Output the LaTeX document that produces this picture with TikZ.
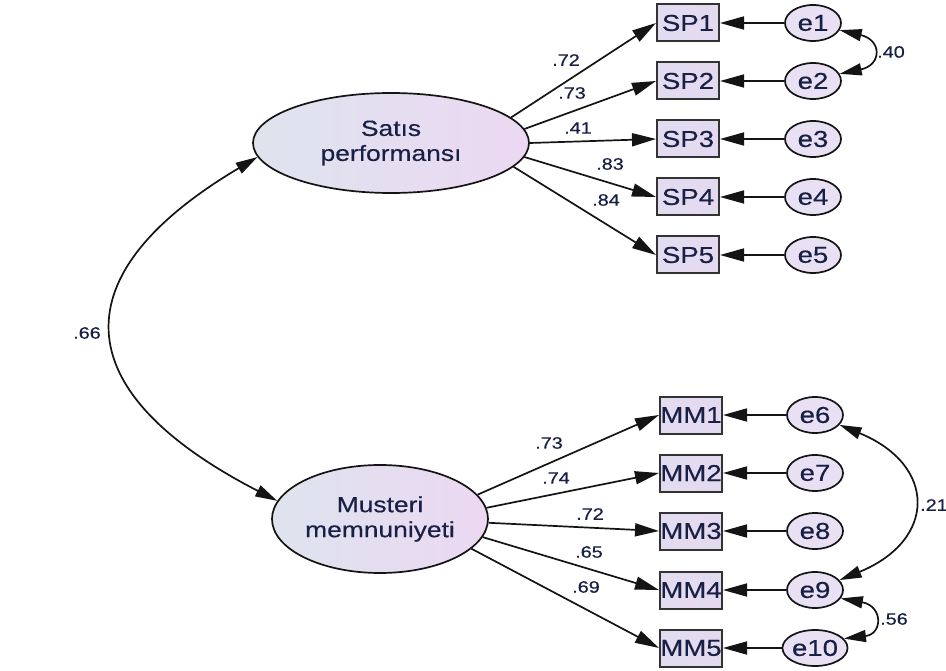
\documentclass[tikz,border=0pt]{standalone}
\usepackage{fontspec}
\setmainfont{Liberation Sans}[FakeStretch=1.2,FakeBold=0.4]
\usetikzlibrary{shapes.geometric,arrows.meta}
\definecolor{txt}{RGB}{25,32,70}
\definecolor{lineC}{RGB}{20,20,20}
\definecolor{fillL}{RGB}{222,228,238}
\definecolor{fillR}{RGB}{236,216,242}
\definecolor{boxC}{RGB}{228,218,240}
\tikzset{
  lat/.style={ellipse, draw=lineC, line width=1.7pt, left color=fillL, right color=fillR,
    inner sep=0pt, align=center, text=txt, font=\fontsize{22}{25}\selectfont},
  obs/.style={rectangle, draw=black!80, line width=2pt, left color=boxC!85!fillL, right color=boxC,
    minimum width=62pt, minimum height=37pt, inner sep=0pt, text=txt, font=\fontsize{23}{25}\selectfont},
  err/.style={ellipse, draw=lineC, line width=1.7pt, fill=boxC!80!white,
    minimum width=56pt, minimum height=36pt, inner sep=0pt, text=txt, font=\fontsize{23}{25}\selectfont},
  pth/.style={draw=lineC, line width=1.7pt, -{Triangle[length=24pt,width=13pt]}},
  cov/.style={draw=lineC, line width=1.7pt, {Triangle[length=22pt,width=12pt]}-{Triangle[length=22pt,width=12pt]}},
  lbl/.style={text=txt, inner sep=0pt, font=\fontsize{16.5}{18}\selectfont},
}
\begin{document}
\begin{tikzpicture}[x=1pt,y=-1pt]
\useasboundingbox (0,0) rectangle (946,671);
\fill[white] (0,0) rectangle (946,671);
% latent variables
\node[lat, minimum width=276pt, minimum height=100pt] (sat) at (391,143) {Satıs\\performansı};
\node[lat, minimum width=216pt, minimum height=108pt] (mus) at (380,519) {Musteri\\memnuniyeti};
% observed
\foreach \i/\y in {1/23,2/81,3/139,4/197,5/255}{
  \node[obs] (sp\i) at (688,\y) {SP\i};
  \node[err] (e\i) at (813,\y) {e\i};
}
\foreach \i/\y/\e in {1/415/6,2/473/7,3/531/8,4/590/9,5/648/10}{
  \node[obs] (mm\i) at (691,\y) {MM\i};
  \node[err] (e\e) at (815,\y) {e\e};
}
% error paths
\foreach \i in {1,...,5}{ \draw[pth] (e\i) -- (sp\i); }
\draw[pth] (e6) -- (mm1);
\draw[pth] (e7) -- (mm2);
\draw[pth] (e8) -- (mm3);
\draw[pth] (e9) -- (mm4);
\draw[pth] (e10) -- (mm5);
% loadings
\draw[pth] (sat.12) -- (sp1.west);
\draw[pth] (sat.6.7) -- (sp2.west);
\draw[pth] (sat.0) -- (sp3.west);
\draw[pth] (sat.-6.2) -- (sp4.west);
\draw[pth] (sat.-11) -- (sp5.west);
\draw[pth] (mus.14.6) -- (mm1.west);
\draw[pth] (mus.6.3) -- (mm2.west);
\draw[pth] (mus.-2) -- (mm3.west);
\draw[pth] (mus.-10) -- (mm4.west);
\draw[pth] (mus.-18) -- (mm5.west);
% covariances
\draw[cov] (sat.186) .. controls (62,273) and (62,390) .. (mus.170);
\draw[cov] (e1.-15) .. controls (882,40) and (882,65) .. (e2.15);
\draw[cov] (e6.-22) .. controls (937,465) and (937,540) .. (e9.22);
\draw[cov] (e9.-18) .. controls (883,606) and (883,634) .. (e10.18);
% labels
\node[lbl] (l1) at (566,60) {.72};
\node[lbl] (l2) at (572,93) {.73};
\node[lbl] (l3) at (578,128) {.41};
\node[lbl] (l4) at (610,164) {.83};
\node[lbl] (l5) at (606,200) {.84};
\node[lbl] (l6) at (549,443) {.73};
\node[lbl] (l7) at (556,478) {.74};
\node[lbl] (l8) at (590,514) {.72};
\node[lbl] (l9) at (589,552) {.65};
\node[lbl] (l10) at (586,587) {.69};
\node[lbl] (lc) at (87,333) {.66};
\node[lbl] (lc1) at (891,52) {.40};
\node[lbl, anchor=west] (lc2) at (920,505) {.21};
\node[lbl] (lc3) at (894,619) {.56};
\end{tikzpicture}
\end{document}
